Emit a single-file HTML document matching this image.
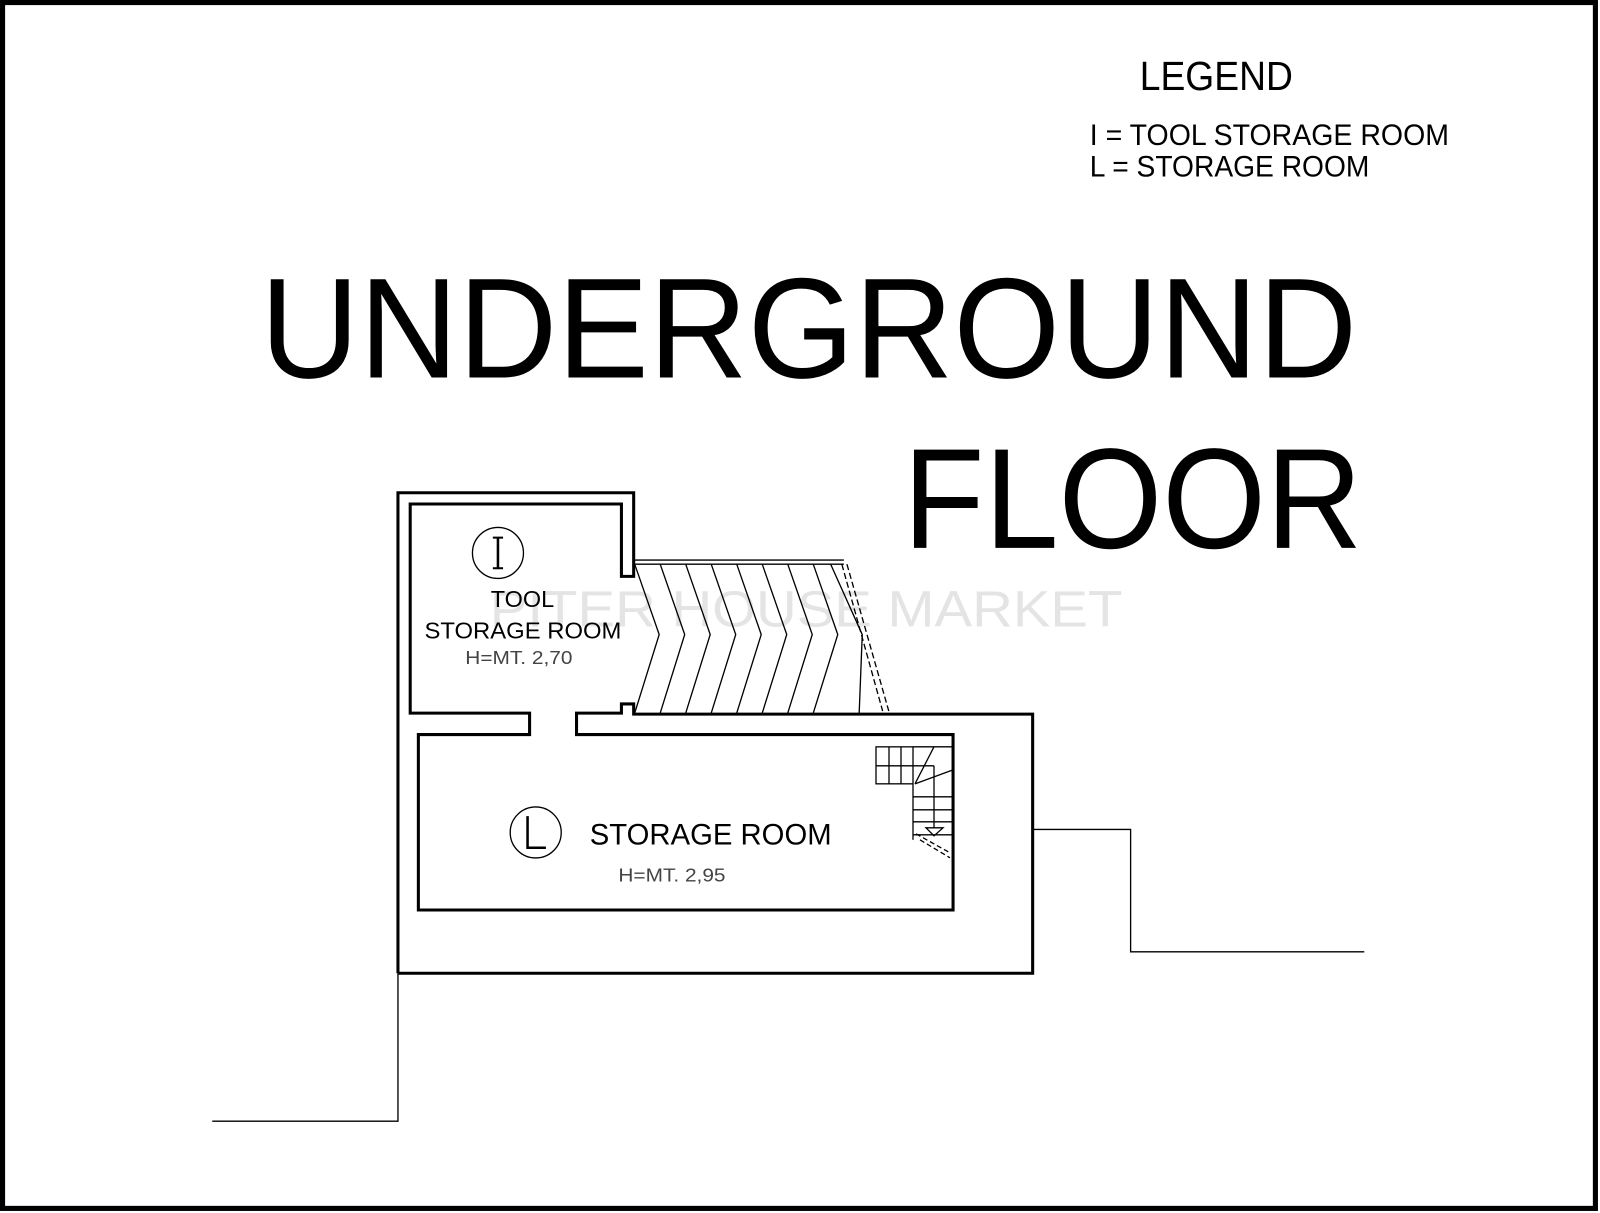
<!DOCTYPE html>
<html><head><meta charset="utf-8"><style>
html,body{margin:0;padding:0;background:#fff;}
svg{display:block;}
text{font-family:"Liberation Sans",sans-serif;fill:#000;}
</style></head><body>
<svg width="1600" height="1213" viewBox="0 0 1568 1189" preserveAspectRatio="none" xmlns="http://www.w3.org/2000/svg">
<rect x="0" y="0" width="1568" height="1189" fill="#fff"/>
<rect x="2.5" y="2.5" width="1561" height="1182" fill="none" stroke="#000" stroke-width="5"/>

<!-- legend -->
<text x="1117" y="88" font-size="40" textLength="150" lengthAdjust="spacingAndGlyphs">LEGEND</text>
<text x="1068" y="142" font-size="29" textLength="352" lengthAdjust="spacingAndGlyphs">I = TOOL STORAGE ROOM</text>
<text x="1068" y="173" font-size="29" textLength="274" lengthAdjust="spacingAndGlyphs">L = STORAGE ROOM</text>

<!-- title -->
<text x="255" y="370" font-size="140" textLength="1075" lengthAdjust="spacingAndGlyphs">UNDERGROUND</text>
<text x="885" y="537" font-size="140" textLength="450" lengthAdjust="spacingAndGlyphs">FLOOR</text>

<!-- watermark -->
<text x="480" y="614" font-size="50" fill="#e6e6e6" style="fill:#e4e4e4" textLength="620" lengthAdjust="spacingAndGlyphs">PITER HOUSE MARKET</text>

<g fill="none" stroke="#000" stroke-width="3">
<!-- outer walls -->
<polyline points="390,954 390,483 621,483 621,565 609,565 609,494 402,494 402,699 519,699 519,720 410,720 410,892 934,892 934,720 565,720 565,699 609,699 609,690 621,690 621,700 1012,700 1012,954 390,954"/>
</g>
<g fill="none" stroke="#000" stroke-width="1.3">
<!-- ramp -->
<line x1="621" y1="549" x2="827" y2="549"/>
<line x1="621" y1="553" x2="827" y2="553"/>
<polyline points="622,553 646,622 622,699"/>
<polyline points="647,553 671,622 647,699"/>
<polyline points="672,553 696,622 672,699"/>
<polyline points="697,553 721,622 697,699"/>
<polyline points="722,553 746,622 722,699"/>
<polyline points="747,553 771,622 747,699"/>
<polyline points="772,553 796,622 772,699"/>
<polyline points="797,553 821,622 797,699"/>
<polyline points="814,553 845,622 842,699" />
<line x1="825" y1="553" x2="865" y2="697" stroke-dasharray="6,3"/>
<line x1="830" y1="553" x2="871" y2="697" stroke-dasharray="6,3"/>
<!-- external lines -->
<polyline points="1012,813 1108,813 1108,933 1337,933"/>
<polyline points="390,954 390,1099 208,1099"/>
<!-- circles -->
<circle cx="488" cy="542" r="25"/>
<circle cx="525" cy="816" r="25"/>
</g>
<!-- stairs (original coords scaled) -->
<g transform="scale(0.98)" fill="none" stroke="#000" stroke-width="1.3">
<rect x="876" y="747" width="37" height="37"/>
<line x1="876" y1="766" x2="934" y2="766"/>
<line x1="913" y1="747" x2="953" y2="747"/>
<line x1="889" y1="747" x2="889" y2="784"/>
<line x1="901" y1="747" x2="901" y2="784"/>
<line x1="913" y1="784" x2="913" y2="840"/>
<line x1="915" y1="784" x2="934" y2="747"/>
<line x1="915" y1="784" x2="953" y2="770"/>
<line x1="934" y1="766" x2="934" y2="828"/>
<line x1="913" y1="797" x2="953" y2="797"/>
<line x1="913" y1="810" x2="953" y2="810"/>
<line x1="913" y1="822" x2="953" y2="822"/>
<line x1="913" y1="835" x2="953" y2="835"/>
<polygon points="926,828 943,828 934,836"/>
<line x1="916" y1="834" x2="950" y2="853" stroke-dasharray="5,3"/>
<line x1="920" y1="840" x2="950" y2="858" stroke-dasharray="5,3"/>
</g>
<!-- circle letters -->
<line x1="488" y1="527" x2="488" y2="557" stroke="#000" stroke-width="2.5"/>
<line x1="483" y1="527" x2="493" y2="527" stroke="#000" stroke-width="2"/>
<line x1="483" y1="557" x2="493" y2="557" stroke="#000" stroke-width="2"/>
<polyline points="517,800 517,831 535,831" fill="none" stroke="#000" stroke-width="2.5"/>

<!-- room labels -->
<text x="512" y="595" font-size="23" text-anchor="middle">TOOL</text>
<text x="416" y="626" font-size="23" textLength="193" lengthAdjust="spacingAndGlyphs">STORAGE ROOM</text>
<text x="456" y="651" font-size="18" fill="#444" style="fill:#444" textLength="105" lengthAdjust="spacingAndGlyphs">H=MT. 2,70</text>
<text x="578" y="828" font-size="29" textLength="237" lengthAdjust="spacingAndGlyphs">STORAGE ROOM</text>
<text x="606" y="864" font-size="18" fill="#444" style="fill:#444" textLength="105" lengthAdjust="spacingAndGlyphs">H=MT. 2,95</text>
</svg>
</body></html>
